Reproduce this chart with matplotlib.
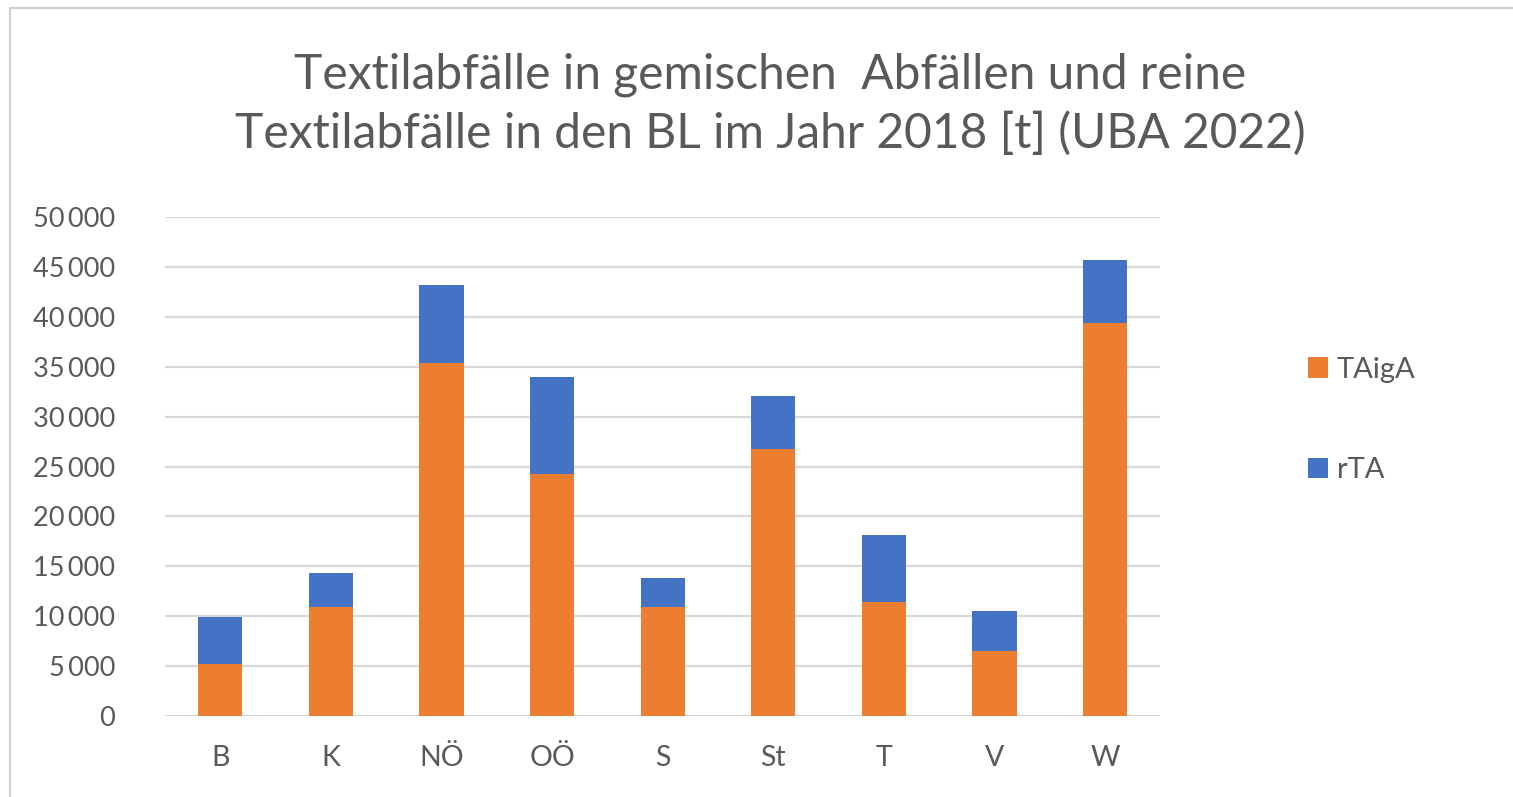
import numpy as np
import matplotlib.pyplot as plt
import matplotlib
from matplotlib.patches import Rectangle
from matplotlib.ticker import FuncFormatter, MultipleLocator

matplotlib.rcParams.update({'font.family': ['Lato', 'DejaVu Sans']})

# Bundesländer and tonnes
states = ['B', 'K', 'NÖ', 'OÖ', 'S', 'St', 'T', 'V', 'W']
taiga = [5210, 10900, 35360, 24230, 10900, 26770, 11460, 6520, 39400]
rta = [4750, 3470, 7780, 9790, 2900, 5280, 6720, 4010, 6320]

orange = '#ED7D31'
blue = '#4472C4'
txt = '#595959'

fig = plt.figure(figsize=(15.13, 7.97), dpi=100)
ax = fig.add_axes([0.109, 0.1016, 0.658, 0.6261])

x = np.arange(len(states))
ax.bar(x, taiga, width=0.4, color=orange, label='TAigA', zorder=3)
ax.bar(x, rta, width=0.4, bottom=taiga, color=blue, label='rTA', zorder=3)

ax.set_xlim(-0.5, len(states) - 0.5)
ax.set_ylim(0, 50000)
ax.yaxis.set_major_locator(MultipleLocator(5000))
ax.yaxis.set_major_formatter(FuncFormatter(lambda v, p: f'{int(v):,}'.replace(',', '\u2009') if v else '0'))
ax.set_xticks(x)
ax.set_xticklabels(states)
ax.grid(axis='y', color='#d9d9d9', linewidth=1.6, zorder=0)
for s in ax.spines.values():
    s.set_visible(False)
ax.tick_params(length=0, colors=txt, labelsize=19.5)
ax.tick_params(axis='y', pad=36)
ax.tick_params(axis='x', labelsize=20.5, pad=21)

fig.text(0.509, 0.8695, 'Textilabfälle in gemischen  Abfällen und reine\nTextilabfälle in den BL im Jahr 2018 [t] (UBA 2022)',
         ha='center', va='center', fontsize=34.5, color=txt, linespacing=1.38)

leg = fig.legend(loc='center left', bbox_to_anchor=(0.847, 0.473), frameon=False,
                 fontsize=21, labelspacing=2.55, handlelength=0.7, handleheight=0.7,
                 handletextpad=0.3, labelcolor=txt)

fig.patches.append(Rectangle((10 / 1513, -0.01), 1.02, 1 - 8 / 797 + 0.01, transform=fig.transFigure,
                             fill=False, edgecolor='#d0d0d0', linewidth=1.5))

fig.savefig('out.png', dpi=100, facecolor='white')
